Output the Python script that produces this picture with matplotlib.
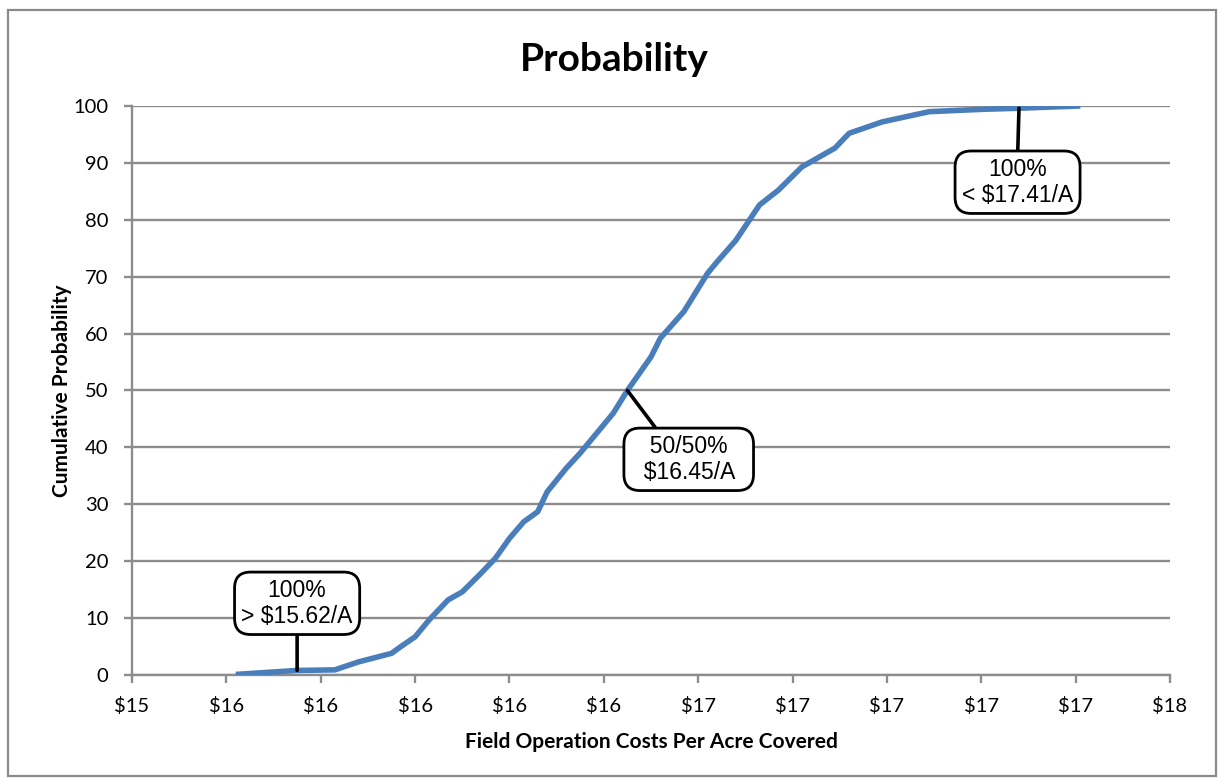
import matplotlib
matplotlib.use("Agg")
import matplotlib.pyplot as plt
from matplotlib.patches import Rectangle
from matplotlib.ticker import MultipleLocator, FuncFormatter

# Cumulative probability curve of field operation cost ($/acre)
cost = [15.62, 15.75, 15.83, 15.88, 15.95, 15.97, 16.00, 16.03, 16.07, 16.10,
        16.14, 16.17, 16.20, 16.23, 16.26, 16.28, 16.32, 16.35, 16.42, 16.45,
        16.50, 16.52, 16.57, 16.62, 16.64, 16.68, 16.73, 16.77, 16.82, 16.89,
        16.92, 16.99, 17.09, 17.20, 17.28, 17.41]
prob = [0.1, 0.8, 0.9, 2.3, 3.8, 5.0, 6.7, 9.7, 13.2, 14.6,
        17.9, 20.5, 24.0, 26.9, 28.7, 32.2, 36.3, 39.0, 46.0, 50.0,
        55.9, 59.2, 63.9, 70.6, 72.6, 76.4, 82.6, 85.2, 89.3, 92.6,
        95.2, 97.2, 99.0, 99.4, 99.6, 100.0]

# callout text, the point each one marks, and where the box sits
callout_text = ["100%\n> $15.62/A", "  50/50%  \n  $16.45/A  ", "100%\n< $17.41/A"]
callout_xy = [(15.75, 0.8), (16.45, 50.0), (17.28, 99.6)]
callout_box = [(15.75, 12.6), (16.58, 37.9), (17.277, 86.6)]
callout_relpos = [(0.5, 0.0), (0.26, 1.0), (0.5, 1.0)]

GRID = "#8c8c8c"
LINE = "#4a7ebb"
UI_FONT = ["Lato", "DejaVu Sans"]

fig = plt.figure(figsize=(12.21, 7.78), dpi=100)
ax = fig.add_axes([0.1081, 0.1324, 0.8501, 0.7314])

# outer chart border
fig.patches.append(Rectangle((8 / 1221, 1 - 776 / 778), 1208 / 1221, 766 / 778,
                             transform=fig.transFigure, fill=False,
                             edgecolor="#8a8a8a", linewidth=1.6))

ax.plot(cost, prob, color=LINE, linewidth=4, solid_capstyle="butt", zorder=3)

ax.set_xlim(15.4, 17.6)
ax.set_ylim(0, 100)
ax.xaxis.set_major_locator(MultipleLocator(0.2))
ax.yaxis.set_major_locator(MultipleLocator(10))
ax.xaxis.set_major_formatter(FuncFormatter(lambda v, _: f"${v:.0f}"))
ax.yaxis.set_major_formatter(FuncFormatter(lambda v, _: f"{v:.0f}"))

ax.grid(axis="y", color=GRID, linewidth=1.7)
ax.set_axisbelow(True)
for side in ("top", "right"):
    ax.spines[side].set_visible(False)
for side in ("left", "bottom"):
    ax.spines[side].set_color(GRID)
    ax.spines[side].set_linewidth(1.7)
ax.tick_params(direction="out", length=6, width=1.7, color=GRID, labelsize=14.5)
ax.tick_params(axis="x", pad=10)
ax.tick_params(axis="y", pad=11)
for lab in ax.get_xticklabels() + ax.get_yticklabels():
    lab.set_family(UI_FONT)

ax.set_xlabel("Field Operation Costs Per Acre Covered", family=UI_FONT,
              fontsize=15, fontweight="bold", labelpad=12)
ax.set_ylabel("Cumulative Probability", family=UI_FONT,
              fontsize=15, fontweight="bold", labelpad=1)
fig.text(0.503, 0.924, "Probability", family=UI_FONT, fontsize=28,
         fontweight="bold", ha="center", va="center")

for text, xy, box, rp in zip(callout_text, callout_xy, callout_box, callout_relpos):
    ax.annotate(text, xy=xy, xytext=box, textcoords="data",
                ha="center", va="center", fontsize=16.5,
                family=["Liberation Sans", "DejaVu Sans"], linespacing=1.15,
                bbox=dict(boxstyle="round,pad=0.3,rounding_size=0.7",
                          facecolor="white", edgecolor="black", linewidth=2),
                arrowprops=dict(arrowstyle="-", color="black", linewidth=2.6,
                                relpos=rp, shrinkA=0, shrinkB=0),
                zorder=5)

fig.savefig("out.png", dpi=100)
